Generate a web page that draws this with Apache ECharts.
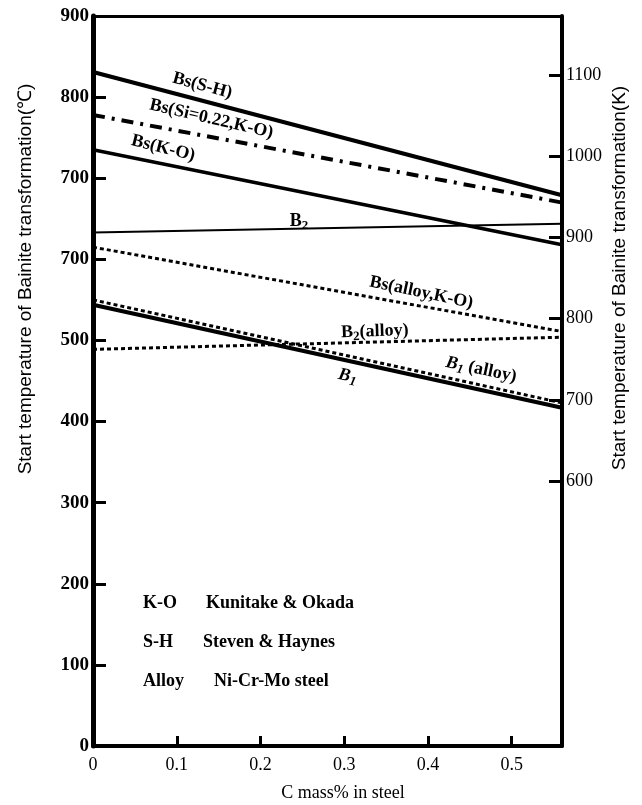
<!DOCTYPE html>
<html><head><meta charset="utf-8">
<script src="https://cdn.jsdelivr.net/npm/echarts@6/dist/echarts.min.js"></script>
<style>html,body{margin:0;padding:0;background:#fff}#c{width:642px;height:805px}</style>
</head><body><div id="c"></div>
<script>
// ---- data ----
const C_MASS = [0, 0.56];
const BS_SH = [831, 679];
const BS_SI_KO = [778, 670];
const BS_KO = [735, 618];
const B2 = [633, 644];
const BS_ALLOY_KO = [615, 511];
const B2_ALLOY = [489, 504];
const B1_ALLOY = [550, 423];
const B1 = [544, 417];
const LEFT_TICKS = [0, 100, 200, 300, 400, 500, 600, 700, 800, 900];
const LEFT_TICK_LABELS = ['0', '100', '200', '300', '400', '500', '700', '700', '800', '900'];
const RIGHT_K_MIN = 600, RIGHT_K_MAX = 1100, RIGHT_K_STEP = 100;
const X_TICKS = [0, 0.1, 0.2, 0.3, 0.4, 0.5];
const KELVIN_OFFSET = 273.15;
const T_MIN = 0, T_MAX = 900, X_MAX = 0.56;

// ---- layout ----
const W = 642, H = 805;
const G = { left: 93, right: 80, top: 16, bottom: 59 };
const TICK_LEN = 13;
const plotH = H - G.top - G.bottom;
const pxPerDeg = plotH / (T_MAX - T_MIN);
const yOfC = c => G.top + (T_MAX - c) * pxPerDeg;
// narrow Kelvin strip along the right axis, aligned with the Celsius scale
const G2 = { left: W - G.right - TICK_LEN, right: G.right,
  top: yOfC(RIGHT_K_MAX - KELVIN_OFFSET),
  bottom: H - yOfC(RIGHT_K_MIN - KELVIN_OFFSET) };

const SERIF = '"Liberation Serif","DejaVu Serif",serif';
const SANS = '"Liberation Sans",Arial,sans-serif';
const chart = echarts.init(document.getElementById('c'));

function pts(ys){ return C_MASS.map((x,i)=>[x, ys[i]]); }
const RICH = {
  b: {fontFamily: SERIF, fontWeight: 'bold', fontSize: 18, color: '#000'},
  bi: {fontFamily: SERIF, fontWeight: 'bold', fontStyle: 'italic', fontSize: 18, color: '#000'},
  sub: {fontFamily: SERIF, fontWeight: 'bold', fontSize: 13, color: '#000', padding: [9,0,0,0]},
  subi: {fontFamily: SERIF, fontWeight: 'bold', fontStyle: 'italic', fontSize: 13, color: '#000', padding: [9,0,0,0]}
};
function lbl(coord, text, rotate){
  return { coord: coord, symbol: 'circle', symbolSize: 0,
    label: { show: true, position: 'inside', formatter: text, rotate: rotate,
      fontFamily: SERIF, fontWeight: 'bold', fontSize: 18, color: '#000', rich: RICH } };
}
function line(name, ys, width, type, label){
  return { name: name, type: 'line', data: pts(ys), symbol: 'none', silent: true,
    xAxisIndex: 0, yAxisIndex: 0,
    lineStyle: { color: '#000', width: width, type: type, cap: 'butt' },
    markPoint: { silent: true, data: label } };
}

chart.setOption({
  animation: false,
  grid: [G, G2],
  xAxis: [{
    gridIndex: 0, type: 'value', min: 0, max: X_MAX, position: 'bottom',
    axisLine: { onZero: false, lineStyle: { color: '#000', width: 4 } },
    axisTick: { inside: true, length: 10, lineStyle: { color: '#000', width: 3 }, customValues: X_TICKS.slice(1) },
    axisLabel: { customValues: X_TICKS, fontFamily: SERIF, fontSize: 18, color: '#000', margin: 10,
      formatter: v => (Math.round(v*10)/10).toString() },
    splitLine: { show: false }
  }, {
    gridIndex: 0, type: 'value', min: 0, max: X_MAX, position: 'top',
    axisLine: { show: true, onZero: false, lineStyle: { color: '#000', width: 3 } },
    axisTick: { show: false }, axisLabel: { show: false }, splitLine: { show: false }
  }, {
    gridIndex: 1, type: 'value', min: 0, max: 1, show: false
  }],
  yAxis: [{
    gridIndex: 0, type: 'value', min: T_MIN, max: T_MAX, interval: 100, position: 'left',
    axisLine: { show: true, onZero: false, lineStyle: { color: '#000', width: 5 } },
    axisTick: { show: true, inside: true, length: TICK_LEN, lineStyle: { color: '#000', width: 3 } },
    axisLabel: { fontFamily: SERIF, fontWeight: 'bold', fontSize: 19, color: '#000', margin: 4,
      formatter: v => LEFT_TICK_LABELS[LEFT_TICKS.indexOf(Math.round(v))] || '' },
    splitLine: { show: false }
  }, {
    gridIndex: 0, type: 'value', min: T_MIN, max: T_MAX, position: 'right',
    axisLine: { show: true, onZero: false, lineStyle: { color: '#000', width: 4 } },
    axisTick: { show: false }, axisLabel: { show: false }, splitLine: { show: false }
  }, {
    gridIndex: 1, type: 'value', min: RIGHT_K_MIN, max: RIGHT_K_MAX, interval: RIGHT_K_STEP, position: 'right',
    axisLine: { show: false, onZero: false }, axisTick: { show: false },
    axisLabel: { fontFamily: SERIF, fontSize: 18, color: '#000', margin: 4, formatter: v => String(Math.round(v)) },
    splitLine: { show: true, lineStyle: { color: '#000', width: 3 } }
  }],
  series: [
    line('Bs(S-H)', BS_SH, 4, 'solid', [lbl([0.1305, 814], 'Bs(S-H)', -15)]),
    line('Bs(Si=0.22,K-O)', BS_SI_KO, 4, [12, 7, 3, 7], [lbl([0.1413, 773], 'Bs(Si=0.22,K-O)', -13)]),
    line('Bs(K-O)', BS_KO, 3.5, 'solid', [lbl([0.0838, 737], 'Bs(K-O)', -14)]),
    line('B2', B2, 2, 'solid', [lbl([0.246, 647], '{b|B}{sub|2}', 0)]),
    line('Bs(alloy,K-O)', BS_ALLOY_KO, 3, [4, 3], [lbl([0.392, 559], 'Bs(alloy,K-O)', -12)]),
    line('B2(alloy)', B2_ALLOY, 3, [4, 3], [lbl([0.3365, 511], '{b|B}{sub|2}{b|(alloy)}', 2)]),
    line('B1(alloy)', B1_ALLOY, 3, [4, 3], [lbl([0.4635, 464], '{bi|B}{subi|1}{b| (alloy)}', -12)]),
    line('B1', B1, 4, 'solid', [lbl([0.304, 456], '{bi|B}{subi|1}', -12)])
  ],
  graphic: [
    { type: 'text', x: 26, y: 279, rotation: Math.PI/2, style: { text: 'Start temperature of Bainite transformation(℃)',
      fontFamily: SANS, fontSize: 19, fill: '#000', align: 'center', verticalAlign: 'middle' } },
    { type: 'text', x: 620, y: 278, rotation: Math.PI/2, style: { text: 'Start temperature of Bainite transformation(K)',
      fontFamily: SANS, fontSize: 19, fill: '#000', align: 'center', verticalAlign: 'middle' } },
    { type: 'text', x: 343, y: 793, style: { text: 'C mass% in steel', fontFamily: SERIF, fontSize: 18, fill: '#000', align: 'center', verticalAlign: 'middle' } },
    { type: 'text', x: 143, y: 603, style: { text: 'K-O', fontFamily: SERIF, fontWeight: 'bold', fontSize: 18, fill: '#000', verticalAlign: 'middle' } },
    { type: 'text', x: 206, y: 603, style: { text: 'Kunitake & Okada', fontFamily: SERIF, fontWeight: 'bold', fontSize: 18, fill: '#000', verticalAlign: 'middle' } },
    { type: 'text', x: 143, y: 642, style: { text: 'S-H', fontFamily: SERIF, fontWeight: 'bold', fontSize: 18, fill: '#000', verticalAlign: 'middle' } },
    { type: 'text', x: 203, y: 642, style: { text: 'Steven & Haynes', fontFamily: SERIF, fontWeight: 'bold', fontSize: 18, fill: '#000', verticalAlign: 'middle' } },
    { type: 'text', x: 143, y: 681, style: { text: 'Alloy', fontFamily: SERIF, fontWeight: 'bold', fontSize: 18, fill: '#000', verticalAlign: 'middle' } },
    { type: 'text', x: 214, y: 681, style: { text: 'Ni-Cr-Mo steel', fontFamily: SERIF, fontWeight: 'bold', fontSize: 18, fill: '#000', verticalAlign: 'middle' } }
  ]
});
</script>
</body></html>
